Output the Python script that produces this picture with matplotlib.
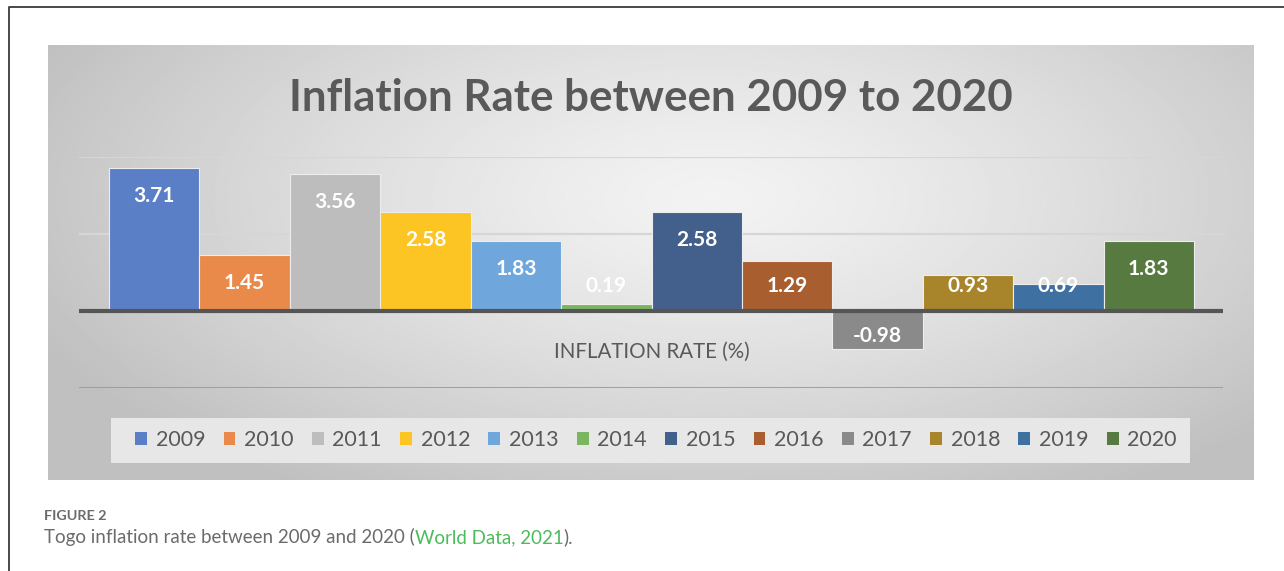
import numpy as np
import matplotlib
matplotlib.use('Agg')
import matplotlib.pyplot as plt
from matplotlib.patches import Rectangle, Patch
from matplotlib.lines import Line2D

years = ['2009', '2010', '2011', '2012', '2013', '2014',
         '2015', '2016', '2017', '2018', '2019', '2020']
rates = [3.71, 1.45, 3.56, 2.58, 1.83, 0.19, 2.58, 1.29, -0.98, 0.93, 0.69, 1.83]
bar_colors = ['#5a7fc7', '#ea8a4a', '#bdbdbd', '#fcc524', '#6fa6dc', '#7bb560',
              '#435f8c', '#a85e2f', '#8a8a8a', '#a8842a', '#3e71a2', '#577a41']
title = 'Inflation Rate between 2009 to 2020'
cat_label = 'INFLATION RATE (%)'

W, H = 1284, 571
plt.rcParams['font.family'] = ['Lato', 'DejaVu Sans']
fig = plt.figure(figsize=(W / 100, H / 100), dpi=100)


def fx(px):
    return px / W


def fy(py):
    return 1 - py / H


# outer frame (top + left edge only)
fig.add_artist(Line2D([fx(9), fx(9), 1], [0, fy(7), fy(7)],
                      transform=fig.transFigure, color='#3a3a3a', lw=1.3))

# gradient chart panel
bg = fig.add_axes([fx(48), fy(480), fx(1254) - fx(48), fy(45) - fy(480)])
yy, xx = np.mgrid[0:1:220j, 0:1:600j]
r = np.sqrt(((xx - 0.55) / 0.62) ** 2 + ((yy - 0.35) / 0.8) ** 2)
shade = 0.95 - 0.2 * np.clip(r, 0, 1) ** 1.3
bg.imshow(shade, cmap='gray', vmin=0, vmax=1, aspect='auto')
bg.set_axis_off()

# plot area
ax = fig.add_axes([fx(79), fy(388), fx(1223) - fx(79), fy(157) - fy(388)])
ax.set_facecolor('none')
x = np.arange(len(years))
ax.set_xlim(-0.5 - 30 / 90.4, len(years) - 0.5 + 29 / 90.4)
ax.set_ylim(-2, 4)
for s in ax.spines.values():
    s.set_visible(False)
ax.set_xticks([])
ax.set_yticks([])

ax.axhline(4, color='#d6d6d6', lw=1.6, zorder=1)
ax.axhline(2, color='#d6d6d6', lw=1.6, zorder=1)
ax.axhline(-2, color='#9a9a9a', lw=2, zorder=1)

ax.bar(x, rates, width=1, color=bar_colors, edgecolor='#ededed', linewidth=0.8, zorder=2)
ax.axhline(0, color='#555555', lw=3, zorder=3)

# data labels, inside end
for i, v in enumerate(rates):
    ly = max(v - 0.73, 0.65) if v >= 0 else min(v + 0.73, -0.65)
    ax.text(i, ly, f'{v:.2f}', ha='center', va='center', color='white',
            fontsize=15, fontweight='bold', zorder=4)

ax.text(x.mean(), -1.07, cat_label, ha='center', va='center',
        color='#595959', fontsize=14.8)

fig.text(fx(651), fy(98), title, ha='center', va='center', color='#595959',
         fontsize=31.6, fontweight='bold')

# legend
fig.add_artist(Rectangle((fx(111), fy(463)), fx(1190) - fx(111), fy(418) - fy(463),
                         transform=fig.transFigure, facecolor='#e7e7e7',
                         edgecolor='none'))
handles = [Patch(facecolor=c, label=y) for c, y in zip(bar_colors, years)]
fig.legend(handles=handles, ncol=len(years), loc='center',
           bbox_to_anchor=(fx(656), fy(440)), frameon=False, fontsize=15.5,
           handlelength=0.55, handleheight=0.55, handletextpad=0.4,
           columnspacing=0.85, labelcolor='#595959')

# caption
fig.text(fx(44), fy(520.5), 'FIGURE 2', fontsize=10.4, fontweight='bold',
         color='#6b6b6b', va='baseline')
parts = [('Togo inflation rate between 2009 and 2020 (', '#6b6b6b'),
         ('World Data, 2021', '#4cbb5a'),
         (').', '#6b6b6b')]
renderer = fig.canvas.get_renderer()
cx = 44
for txt, col in parts:
    t = fig.text(fx(cx), fy(543), txt, fontsize=13.5, color=col, va='baseline')
    cx += t.get_window_extent(renderer).width

fig.savefig('out.png', dpi=100)
